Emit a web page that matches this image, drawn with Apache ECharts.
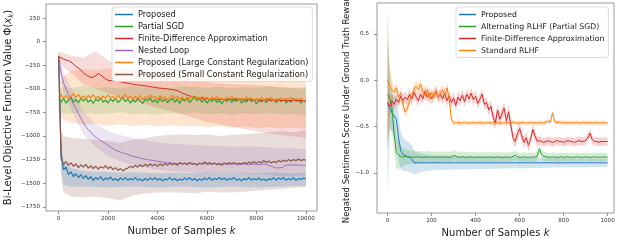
<!DOCTYPE html>
<html>
<head>
<meta charset="utf-8">
<script src="https://cdn.jsdelivr.net/npm/echarts@6/dist/echarts.min.js"></script>
<style>
  html, body { margin: 0; padding: 0; background: #fff; }
  #chart { width: 623px; height: 241px; }
</style>
</head>
<body>
<div id="chart"></div>
<script>
// ---------- left panel: bi-level objective ----------
const leftX = [0,100,200,300,400,500,600,700,800,900,1000,1100,1200,1300,1400,1500,1600,1700,1800,1900,
  2000,2100,2200,2300,2400,2500,2600,2700,2800,2900,3000,3100,3200,3300,3400,3500,3600,3700,3800,3900,
  4000,4100,4200,4300,4400,4500,4600,4700,4800,4900,5000,5100,5200,5300,5400,5500,5600,5700,5800,5900,
  6000,6100,6200,6300,6400,6500,6600,6700,6800,6900,7000,7100,7200,7300,7400,7500,7600,7700,7800,7900,
  8000,8100,8200,8300,8400,8500,8600,8700,8800,8900,9000,9100,9200,9300,9400,9500,9600,9700,9800,9900,10000]

const proposedL = [-150,-1180,-1360,-1330,-1410,-1380,-1430,-1400,-1440,-1410,
  -1450,-1420,-1460,-1430,-1470,-1440,-1460,-1430,-1470,-1445,
  -1460,-1435,-1470,-1450,-1475,-1445,-1465,-1440,-1470,-1450,
  -1465,-1440,-1470,-1455,-1475,-1450,-1470,-1445,-1465,-1440,
  -1470,-1450,-1475,-1455,-1465,-1440,-1470,-1450,-1475,-1455,
  -1470,-1445,-1465,-1440,-1470,-1450,-1475,-1455,-1470,-1445,
  -1465,-1440,-1470,-1450,-1460,-1440,-1465,-1445,-1470,-1450,
  -1460,-1440,-1470,-1455,-1475,-1450,-1465,-1440,-1470,-1450,
  -1465,-1445,-1470,-1455,-1475,-1450,-1465,-1440,-1470,-1445,
  -1460,-1440,-1470,-1450,-1465,-1440,-1470,-1450,-1460,-1445,-1455]

const partialSgdL = [-610,-640,-600,-650,-620,-590,-640,-610,-650,-600,
  -630,-600,-640,-615,-655,-610,-630,-595,-640,-620,
  -650,-605,-635,-600,-645,-620,-590,-635,-610,-650,
  -615,-640,-600,-630,-655,-610,-625,-595,-640,-615,
  -650,-600,-635,-610,-645,-620,-600,-640,-610,-655,
  -605,-630,-600,-645,-615,-580,-625,-600,-640,-610,
  -650,-615,-635,-600,-645,-620,-660,-610,-635,-600,
  -645,-615,-630,-605,-650,-620,-640,-600,-635,-610,
  -660,-620,-640,-610,-650,-600,-630,-615,-645,-605,
  -635,-610,-650,-620,-640,-600,-630,-615,-650,-625,-640]

const finiteDiffL = [-160,-170,-185,-195,-200,-215,-240,-260,-280,-300,
  -330,-350,-365,-380,-375,-360,-340,-350,-375,-395,
  -410,-412,-415,-418,-420,-425,-430,-435,-440,-445,
  -450,-455,-458,-462,-465,-468,-472,-476,-480,-484,
  -490,-492,-495,-498,-500,-504,-508,-512,-518,-528,
  -545,-555,-565,-575,-582,-590,-594,-597,-600,-602,
  -605,-608,-606,-610,-612,-608,-610,-614,-612,-610,
  -612,-615,-613,-610,-614,-617,-615,-612,-616,-618,
  -615,-618,-620,-617,-615,-619,-622,-620,-618,-621,
  -623,-620,-622,-625,-623,-620,-624,-626,-623,-625,-627]

const nestedLoopL = [-160,-330,-440,-500,-560,-610,-660,-710,-760,-810,
  -860,-900,-930,-960,-990,-1010,-1030,-1050,-1065,-1080,
  -1100,-1115,-1135,-1150,-1160,-1170,-1180,-1185,-1195,-1205,
  -1215,-1220,-1225,-1235,-1240,-1245,-1250,-1255,-1260,-1262,
  -1268,-1272,-1275,-1280,-1282,-1285,-1288,-1290,-1292,-1290,
  -1293,-1290,-1295,-1292,-1288,-1295,-1298,-1292,-1290,-1295,
  -1298,-1300,-1295,-1290,-1296,-1300,-1295,-1292,-1298,-1302,
  -1298,-1295,-1300,-1305,-1298,-1294,-1300,-1305,-1300,-1296,
  -1300,-1305,-1300,-1296,-1302,-1310,-1320,-1330,-1340,-1338,
  -1335,-1325,-1310,-1305,-1310,-1308,-1304,-1310,-1312,-1308,-1310]

const largeRegL = [-590,-560,-600,-570,-610,-580,-550,-590,-560,-600,
  -575,-605,-570,-595,-560,-600,-580,-615,-575,-600,
  -565,-595,-580,-610,-570,-600,-585,-560,-600,-575,
  -610,-580,-600,-570,-615,-585,-600,-565,-595,-580,
  -610,-575,-600,-585,-615,-590,-570,-600,-580,-610,
  -585,-620,-590,-605,-575,-600,-590,-615,-580,-600,
  -590,-620,-585,-610,-580,-605,-595,-625,-590,-610,
  -580,-605,-590,-620,-600,-615,-585,-610,-595,-625,
  -600,-615,-590,-620,-600,-610,-590,-625,-605,-615,
  -595,-620,-600,-610,-590,-625,-605,-615,-600,-630,-620]

const smallRegL = [-150,-1240,-1300,-1270,-1310,-1285,-1320,-1295,-1335,-1305,
  -1330,-1300,-1340,-1315,-1345,-1320,-1350,-1325,-1340,-1315,
  -1345,-1325,-1355,-1335,-1365,-1345,-1370,-1350,-1340,-1320,
  -1335,-1310,-1330,-1305,-1325,-1300,-1320,-1295,-1315,-1300,
  -1320,-1295,-1315,-1290,-1310,-1285,-1305,-1290,-1310,-1280,
  -1300,-1285,-1305,-1280,-1300,-1290,-1310,-1285,-1300,-1275,
  -1295,-1280,-1300,-1285,-1305,-1290,-1310,-1285,-1300,-1280,
  -1295,-1280,-1300,-1285,-1300,-1280,-1295,-1275,-1290,-1270,
  -1290,-1270,-1285,-1260,-1280,-1265,-1285,-1270,-1280,-1260,
  -1275,-1255,-1270,-1250,-1265,-1250,-1260,-1245,-1260,-1250,-1255]

// shaded bands (upper / lower edge), coarser grid
const bandX = [0,100,200,500,1000,1500,2000,2500,3000,3500,4000,4500,5000,5500,6000,6500,7000,7500,8000,8500,9000,9500,10000]
const proposedHiL = [-120,-1050,-1280,-1340,-1370,-1380,-1385,-1390,-1385,-1390,-1395,-1390,-1395,-1390,-1385,-1390,-1395,-1390,-1395,-1385,-1390,-1395,-1390]
const proposedLoL = [-200,-1350,-1520,-1540,-1535,-1540,-1545,-1540,-1535,-1540,-1545,-1540,-1535,-1540,-1545,-1540,-1535,-1540,-1545,-1540,-1535,-1530,-1530]
const partialSgdHiL = [-500,-490,-480,-490,-470,-490,-480,-500,-470,-490,-480,-495,-470,-480,-490,-475,-495,-480,-490,-470,-485,-490,-480]
const partialSgdLoL = [-720,-750,-760,-760,-750,-770,-760,-750,-770,-760,-775,-755,-765,-750,-770,-760,-775,-760,-770,-755,-770,-765,-780]
const finiteDiffHiL = [-100,-110,-120,-150,-170,-100,-200,-260,-300,-320,-350,-370,-400,-420,-430,-440,-450,-455,-460,-470,-480,-490,-500]
const finiteDiffLoL = [-220,-240,-270,-330,-450,-500,-550,-590,-620,-660,-700,-735,-770,-810,-850,-875,-900,-925,-950,-970,-990,-1005,-1020]
const nestedLoopHiL = [-100,-220,-330,-480,-740,-870,-950,-990,-1020,-1045,-1065,-1080,-1090,-1095,-1100,-1105,-1110,-1110,-1115,-1120,-1130,-1130,-1140]
const nestedLoopLoL = [-220,-420,-540,-720,-980,-1120,-1210,-1270,-1310,-1335,-1355,-1370,-1380,-1385,-1390,-1390,-1395,-1395,-1400,-1410,-1430,-1420,-1420]
const largeRegHiL = [-450,-400,-360,-310,-290,-300,-280,-300,-290,-300,-310,-300,-320,-310,-330,-320,-330,-340,-330,-340,-350,-340,-350]
const largeRegLoL = [-750,-800,-830,-860,-880,-870,-890,-875,-895,-880,-900,-885,-900,-890,-905,-895,-910,-900,-915,-905,-920,-910,-925]
const smallRegHiL = [-100,-950,-1000,-1020,-1030,-1040,-1050,-1070,-1040,-1020,-1000,-990,-980,-990,-980,-1000,-990,-980,-970,-960,-950,-960,-940]
const smallRegLoL = [-200,-1450,-1600,-1640,-1650,-1640,-1660,-1680,-1630,-1610,-1600,-1600,-1600,-1610,-1590,-1600,-1600,-1590,-1580,-1570,-1560,-1550,-1540]

const leftXTicks = [0, 2000, 4000, 6000, 8000, 10000]
const leftYTicks = [250, 0, -250, -500, -750, -1000, -1250, -1500, -1750]

// ---------- right panel: negated sentiment score ----------
const rightX = [0,10,20,30,40,50,60,70,80,90,100,110,120,130,140,150,160,170,180,190,
  200,210,220,230,240,250,260,270,280,290,300,310,320,330,340,350,360,370,380,390,
  400,410,420,430,440,450,460,470,480,490,500,510,520,530,540,550,560,570,580,590,
  600,610,620,630,640,650,660,670,680,690,700,710,720,730,740,750,760,770,780,790,
  800,810,820,830,840,850,860,870,880,890,900,910,920,930,940,950,960,970,980,990,1000]

const proposedR = [-0.25,-0.30,-0.35,-0.38,-0.42,-0.62,-0.76,-0.80,-0.81,-0.82,
  -0.83,-0.85,-0.89,-0.89,-0.89,-0.89,-0.89,-0.89,-0.89,-0.89,
  -0.89,-0.89,-0.89,-0.89,-0.89,-0.89,-0.89,-0.89,-0.89,-0.89,
  -0.89,-0.89,-0.89,-0.89,-0.89,-0.89,-0.89,-0.89,-0.89,-0.89,
  -0.89,-0.89,-0.89,-0.89,-0.89,-0.89,-0.89,-0.89,-0.89,-0.89,
  -0.89,-0.89,-0.89,-0.89,-0.89,-0.89,-0.89,-0.89,-0.89,-0.89,
  -0.89,-0.89,-0.89,-0.89,-0.89,-0.89,-0.89,-0.89,-0.89,-0.89,
  -0.89,-0.89,-0.89,-0.89,-0.89,-0.89,-0.89,-0.89,-0.89,-0.89,
  -0.89,-0.89,-0.89,-0.89,-0.89,-0.89,-0.89,-0.89,-0.89,-0.89,
  -0.89,-0.89,-0.89,-0.89,-0.89,-0.89,-0.89,-0.89,-0.89,-0.89,-0.89]
const proposedSpreadR = [1.0,0.25,0.2,0.22,0.25,0.25,0.2,0.18,0.17,0.16,
  0.16,0.15,0.13,0.12,0.11,0.10,0.10,0.09,0.09,0.085,
  0.08,0.08,0.08,0.078,0.078,0.076,0.076,0.075,0.075,0.075,
  0.074,0.073,0.072,0.072,0.071,0.07,0.07,0.07,0.069,0.068,
  0.068,0.067,0.067,0.066,0.066,0.065,0.065,0.065,0.064,0.064,
  0.063,0.063,0.062,0.062,0.061,0.061,0.06,0.06,0.06,0.059,
  0.059,0.058,0.058,0.057,0.057,0.056,0.056,0.055,0.055,0.055,
  0.054,0.054,0.053,0.053,0.052,0.052,0.051,0.051,0.05,0.05,
  0.05,0.049,0.049,0.048,0.048,0.048,0.047,0.047,0.047,0.046,
  0.046,0.046,0.045,0.045,0.045,0.044,0.044,0.044,0.043,0.043,0.043]

const alternatingR = [-0.15,-0.20,-0.30,-0.58,-0.78,-0.81,-0.82,-0.83,-0.82,-0.83,
  -0.83,-0.825,-0.83,-0.83,-0.825,-0.83,-0.83,-0.83,-0.825,-0.83,
  -0.83,-0.83,-0.825,-0.83,-0.83,-0.83,-0.825,-0.83,-0.83,-0.83,
  -0.81,-0.815,-0.83,-0.83,-0.825,-0.83,-0.83,-0.83,-0.825,-0.83,
  -0.83,-0.83,-0.825,-0.83,-0.83,-0.83,-0.825,-0.83,-0.83,-0.83,
  -0.825,-0.83,-0.83,-0.83,-0.825,-0.83,-0.83,-0.82,-0.81,-0.825,
  -0.83,-0.83,-0.825,-0.83,-0.83,-0.83,-0.825,-0.83,-0.82,-0.74,
  -0.80,-0.82,-0.825,-0.83,-0.83,-0.825,-0.83,-0.83,-0.83,-0.825,
  -0.83,-0.83,-0.825,-0.83,-0.83,-0.83,-0.825,-0.83,-0.83,-0.83,
  -0.825,-0.83,-0.83,-0.83,-0.825,-0.83,-0.83,-0.83,-0.825,-0.83,-0.83]
const alternatingSpreadR = [0.6,0.3,0.25,0.2,0.17,0.15,0.12,0.1,0.09,0.08,
  0.075,0.072,0.07,0.068,0.066,0.065,0.064,0.063,0.062,0.061,
  0.06,0.06,0.06,0.06,0.059,0.059,0.059,0.058,0.058,0.058,
  0.057,0.057,0.057,0.056,0.056,0.056,0.055,0.055,0.055,0.054,
  0.054,0.054,0.053,0.053,0.053,0.052,0.052,0.052,0.051,0.051,
  0.051,0.05,0.05,0.05,0.05,0.05,0.05,0.05,0.05,0.05,
  0.049,0.049,0.049,0.049,0.049,0.049,0.048,0.048,0.048,0.048,
  0.048,0.048,0.047,0.047,0.047,0.047,0.047,0.047,0.047,0.046,
  0.046,0.046,0.046,0.046,0.046,0.046,0.046,0.045,0.045,0.045,
  0.045,0.045,0.045,0.045,0.045,0.045,0.045,0.045,0.045,0.045,0.045]

const finiteDiffR = [-0.24,-0.28,-0.22,-0.26,-0.20,-0.24,-0.17,-0.22,-0.18,-0.21,
  -0.15,-0.20,-0.13,-0.18,-0.22,-0.15,-0.20,-0.12,-0.18,-0.14,
  -0.20,-0.16,-0.12,-0.18,-0.15,-0.20,-0.14,-0.22,-0.17,-0.24,
  -0.19,-0.27,-0.18,-0.22,-0.16,-0.23,-0.15,-0.20,-0.14,-0.21,
  -0.17,-0.25,-0.20,-0.15,-0.26,-0.24,-0.32,-0.28,-0.40,-0.46,
  -0.32,-0.42,-0.36,-0.30,-0.44,-0.34,-0.48,-0.62,-0.66,-0.58,
  -0.52,-0.60,-0.67,-0.62,-0.70,-0.64,-0.53,-0.60,-0.66,-0.65,
  -0.66,-0.67,-0.66,-0.65,-0.66,-0.67,-0.66,-0.65,-0.66,-0.66,
  -0.67,-0.66,-0.65,-0.66,-0.66,-0.67,-0.66,-0.65,-0.66,-0.66,
  -0.65,-0.62,-0.57,-0.64,-0.66,-0.66,-0.67,-0.66,-0.66,-0.66,-0.66]
const finiteDiffSpreadR = [0.5,0.12,0.07,0.06,0.06,0.06,0.06,0.06,0.06,0.06,
  0.06,0.06,0.06,0.06,0.06,0.06,0.06,0.06,0.06,0.06,
  0.06,0.06,0.06,0.06,0.06,0.06,0.06,0.06,0.06,0.06,
  0.06,0.06,0.06,0.06,0.06,0.06,0.06,0.06,0.06,0.06,
  0.06,0.06,0.06,0.06,0.06,0.06,0.065,0.065,0.07,0.07,
  0.07,0.07,0.07,0.07,0.07,0.07,0.07,0.07,0.07,0.07,
  0.065,0.065,0.065,0.065,0.065,0.06,0.06,0.055,0.05,0.05,
  0.045,0.045,0.045,0.045,0.045,0.045,0.045,0.045,0.045,0.045,
  0.045,0.045,0.045,0.045,0.045,0.045,0.045,0.045,0.045,0.045,
  0.045,0.045,0.045,0.045,0.045,0.045,0.045,0.045,0.045,0.045,0.045]

const standardR = [0.00,-0.06,-0.10,-0.13,-0.08,-0.18,-0.14,-0.26,-0.34,-0.30,
  -0.22,-0.18,-0.10,-0.06,-0.10,-0.04,-0.12,-0.16,-0.10,-0.20,
  -0.13,-0.18,-0.11,-0.19,-0.14,-0.10,-0.17,-0.08,-0.20,-0.42,
  -0.46,-0.46,-0.455,-0.46,-0.46,-0.455,-0.46,-0.46,-0.46,-0.455,
  -0.46,-0.46,-0.455,-0.46,-0.46,-0.46,-0.455,-0.46,-0.46,-0.46,
  -0.455,-0.46,-0.46,-0.46,-0.455,-0.46,-0.46,-0.45,-0.46,-0.46,
  -0.46,-0.455,-0.46,-0.46,-0.46,-0.455,-0.46,-0.46,-0.46,-0.455,
  -0.46,-0.46,-0.45,-0.44,-0.45,-0.35,-0.45,-0.455,-0.45,-0.46,
  -0.455,-0.46,-0.46,-0.455,-0.46,-0.46,-0.455,-0.46,-0.46,-0.455,
  -0.46,-0.46,-0.455,-0.46,-0.46,-0.455,-0.46,-0.46,-0.455,-0.46,-0.46]
const standardSpreadR = [0.72,0.2,0.1,0.07,0.06,0.06,0.06,0.06,0.06,0.06,
  0.06,0.06,0.06,0.06,0.06,0.06,0.06,0.06,0.06,0.06,
  0.06,0.06,0.06,0.06,0.06,0.06,0.06,0.06,0.06,0.04,
  0.025,0.025,0.025,0.025,0.025,0.025,0.025,0.025,0.025,0.025,
  0.025,0.025,0.025,0.025,0.025,0.025,0.025,0.025,0.025,0.025,
  0.025,0.025,0.025,0.025,0.025,0.025,0.025,0.025,0.025,0.025,
  0.025,0.025,0.025,0.025,0.025,0.025,0.025,0.025,0.025,0.025,
  0.025,0.025,0.025,0.025,0.025,0.025,0.025,0.025,0.025,0.025,
  0.025,0.025,0.025,0.025,0.025,0.025,0.025,0.025,0.025,0.025,
  0.025,0.025,0.025,0.025,0.025,0.025,0.025,0.025,0.025,0.025,0.025]

const rightXTicks = [0, 200, 400, 600, 800, 1000]
const rightYTicks = [0.5, 0, -0.5, -1]

// ---------- drawing ----------
const FONT = 'DejaVu Sans'
const C = { blue: '#1f77b4', orange: '#ff7f0e', green: '#2ca02c', red: '#d62728', purple: '#9467bd', brown: '#8c564b' }

function band(xs, hi, lo, color, axis, alpha) {
  return {
    type: 'custom', xAxisIndex: axis, yAxisIndex: axis, silent: true, z: 1,
    data: [[0, 0]],
    renderItem: (params, api) => {
      const pts = []
      for (let i = 0; i < xs.length; i++) pts.push(api.coord([xs[i], hi[i]]))
      for (let i = xs.length - 1; i >= 0; i--) pts.push(api.coord([xs[i], lo[i]]))
      return { type: 'polygon', shape: { points: pts }, style: { fill: color, opacity: alpha || 0.2 } }
    }
  }
}

function spreadBand(xs, mean, spread, color, axis) {
  const hi = mean.map((v, i) => v + spread[i])
  const lo = mean.map((v, i) => v - spread[i])
  return band(xs, hi, lo, color, axis)
}

function line(name, xs, ys, color, axis, width) {
  return {
    name, type: 'line', xAxisIndex: axis, yAxisIndex: axis, z: 3,
    data: xs.map((x, i) => [x, ys[i]]),
    showSymbol: false, symbol: 'none',
    lineStyle: { color, width: width || 1 }, itemStyle: { color }
  }
}

const minus = v => (v < 0 ? '\u2212' + Math.abs(v) : String(v))
const tickStyle = { color: '#777', width: 0.8 }

function xAxisCfg(idx, min, max, ticks, gap) {
  return {
    type: 'value', gridIndex: idx, min, max,
    axisLine: { show: false, onZero: false }, splitLine: { show: false },
    axisTick: { show: true, customValues: ticks, length: 3, lineStyle: tickStyle },
    axisLabel: { customValues: ticks, fontSize: 5.6, color: '#333', margin: 5, fontFamily: FONT, formatter: minus },
    name: '{t|Number of Samples }{i|k}', nameLocation: 'middle', nameGap: gap,
    nameTextStyle: { fontSize: 10, fontFamily: FONT, color: '#222',
      rich: { t: { fontSize: 10, fontFamily: FONT, color: '#222' },
              i: { fontSize: 10, fontFamily: FONT, fontStyle: 'italic', color: '#222' } } }
  }
}

const leftLegend = ['Proposed', 'Partial SGD', 'Finite-Difference Approximation', 'Nested Loop',
  'Proposed (Large Constant Regularization)', 'Proposed (Small Constant Regularization)']
const rightLegend = ['Proposed', 'Alternating RLHF (Partial SGD)', 'Finite-Difference Approximation', 'Standard RLHF']

function legendCfg(names, left, itemWidth, fontSize) {
  return {
    data: names, orient: 'vertical', left, top: 7, icon: 'rect',
    itemWidth, itemHeight: 1.5, itemGap: 4, padding: [3.5, 4, 3, 3],
    backgroundColor: 'rgba(255,255,255,0.85)', borderColor: '#d4d4d4', borderWidth: 0.8, borderRadius: 3,
    textStyle: { fontSize, fontFamily: FONT, color: '#222' },
    selectedMode: false
  }
}

const chart = echarts.init(document.getElementById('chart'), null, { renderer: 'canvas' })

chart.setOption({
  animation: false,
  backgroundColor: '#fff',
  grid: [
    { left: 46, top: 4, width: 271, height: 207, show: true, borderColor: '#808080', borderWidth: 0.8,
      backgroundColor: 'transparent', containLabel: false, outerBoundsMode: 'none' },
    { left: 377, top: 3, width: 237, height: 210, show: true, borderColor: '#808080', borderWidth: 0.8,
      backgroundColor: 'transparent', containLabel: false, outerBoundsMode: 'none' }
  ],
  xAxis: [
    xAxisCfg(0, -510, 10450, leftXTicks, 15),
    xAxisCfg(1, -48, 1029, rightXTicks, 13)
  ],
  yAxis: [
    {
      type: 'value', gridIndex: 0, min: -1795, max: 400,
      axisLine: { show: false, onZero: false }, splitLine: { show: false },
      axisTick: { show: true, customValues: leftYTicks, length: 3, lineStyle: tickStyle },
      axisLabel: { customValues: leftYTicks, fontSize: 5.6, color: '#333', margin: 6, fontFamily: FONT, formatter: minus },
      name: '{t|Bi-Level Objective Function Value \u03A6(}{i|x}{s|k}{t|)}',
      nameLocation: 'middle', nameGap: 31,
      nameTextStyle: { fontSize: 10, fontFamily: FONT, color: '#222',
        rich: { t: { fontSize: 10, fontFamily: FONT, color: '#222', lineHeight: 14 },
                i: { fontSize: 10, fontFamily: FONT, fontStyle: 'italic', color: '#222', lineHeight: 14 },
                s: { fontSize: 7, fontFamily: FONT, fontStyle: 'italic', color: '#222', lineHeight: 14, verticalAlign: 'bottom' } } }
    },
    {
      type: 'value', gridIndex: 1, min: -1.432, max: 0.835,
      axisLine: { show: false, onZero: false }, splitLine: { show: false },
      axisTick: { show: true, customValues: rightYTicks, length: 3, lineStyle: tickStyle },
      axisLabel: { customValues: rightYTicks, fontSize: 5.6, color: '#333', margin: 8, fontFamily: FONT,
        formatter: v => (v < 0 ? '\u2212' + Math.abs(v).toFixed(1) : v.toFixed(1)) },
      name: 'Negated Sentiment Score Under Ground Truth Reward',
      nameLocation: 'middle', nameGap: 24,
      nameTextStyle: { fontSize: 8.5, fontFamily: FONT, color: '#222' }
    }
  ],
  legend: [legendCfg(leftLegend, 112, 18, 8.2), legendCfg(rightLegend, 456, 17, 7.8)],
  series: [
    band(bandX, largeRegHiL, largeRegLoL, C.orange, 0),
    band(bandX, finiteDiffHiL, finiteDiffLoL, C.red, 0, 0.17),
    band(bandX, partialSgdHiL, partialSgdLoL, C.green, 0, 0.15),
    band(bandX, nestedLoopHiL, nestedLoopLoL, C.purple, 0, 0.17),
    band(bandX, smallRegHiL, smallRegLoL, C.brown, 0),
    band(bandX, proposedHiL, proposedLoL, C.blue, 0),
    line('Proposed', leftX, proposedL, C.blue, 0, 1.2),
    line('Partial SGD', leftX, partialSgdL, C.green, 0, 1.2),
    line('Finite-Difference Approximation', leftX, finiteDiffL, C.red, 0, 1),
    line('Nested Loop', leftX, nestedLoopL, C.purple, 0, 0.9),
    line('Proposed (Large Constant Regularization)', leftX, largeRegL, C.orange, 0, 1.2),
    line('Proposed (Small Constant Regularization)', leftX, smallRegL, C.brown, 0, 1.2),

    spreadBand(rightX, proposedR, proposedSpreadR, C.blue, 1),
    spreadBand(rightX, alternatingR, alternatingSpreadR, C.green, 1),
    spreadBand(rightX, finiteDiffR, finiteDiffSpreadR, C.red, 1),
    spreadBand(rightX, standardR, standardSpreadR, C.orange, 1),
    line('Proposed', rightX, proposedR, C.blue, 1, 1),
    line('Alternating RLHF (Partial SGD)', rightX, alternatingR, C.green, 1, 1),
    line('Finite-Difference Approximation', rightX, finiteDiffR, C.red, 1, 1),
    line('Standard RLHF', rightX, standardR, C.orange, 1, 1)
  ]
})
</script>
</body>
</html>
